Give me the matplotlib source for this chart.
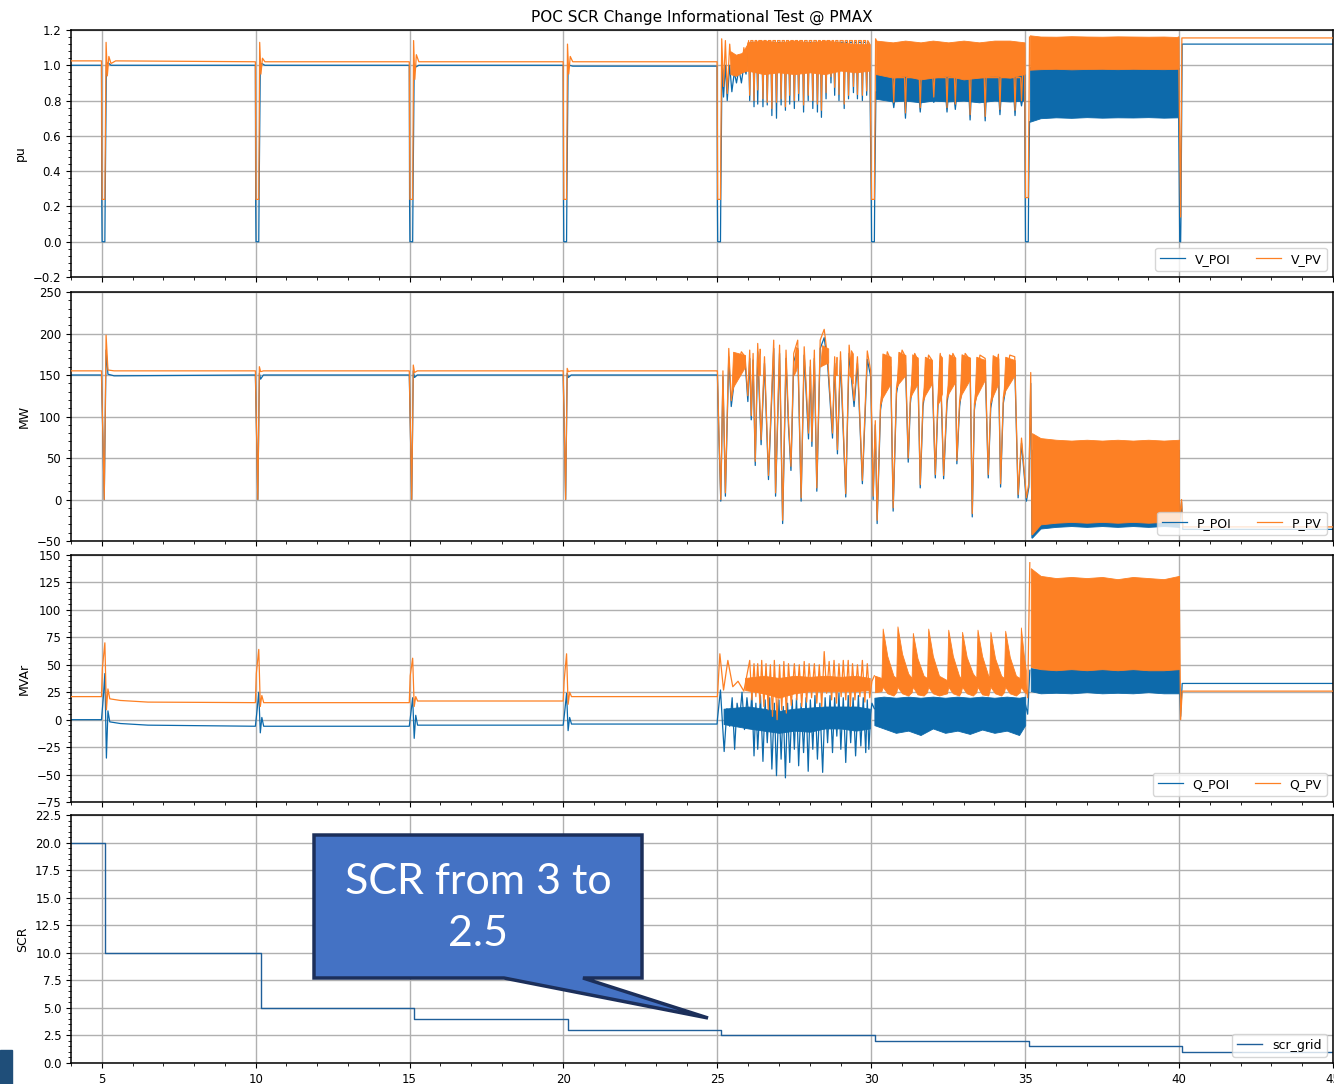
import matplotlib
matplotlib.use("Agg")
import matplotlib.pyplot as plt
import numpy as np
from matplotlib.ticker import MultipleLocator, AutoMinorLocator
from matplotlib.patches import Polygon, Rectangle

BLUE = "#0d6aab"
ORANGE = "#fd8024"

# ---------------- voltage (pu) ----------------
v_t_pre_poi = [4.0, 4.99, 5.0, 5.01, 5.1, 5.11, 5.15, 5.2, 5.3, 9.99, 10.0, 10.01, 10.1, 10.11, 10.15, 10.2, 10.3,
               14.99, 15.0, 15.01, 15.1, 15.11, 15.15, 15.2, 15.3, 19.99, 20.0, 20.01, 20.1, 20.11, 20.15, 20.2, 20.3, 24.99]
v_poi_pre = [1.0, 1.0, 0.22, 0.0, 0.0, 0.24, 1.0, 1.015, 1.0, 1.0, 0.22, 0.0, 0.0, 0.24, 1.0, 1.01, 1.0,
             1.0, 0.22, 0.0, 0.0, 0.24, 1.0, 0.99, 1.0, 1.0, 0.24, 0.0, 0.0, 0.25, 1.0, 1.0, 0.995, 0.995]
v_t_pre_pv = [4.0, 4.99, 5.01, 5.1, 5.14, 5.18, 5.23, 5.3, 5.45, 9.99, 10.01, 10.1, 10.13, 10.17, 10.22, 10.3,
              14.99, 15.01, 15.1, 15.13, 15.17, 15.22, 15.3, 19.99, 20.01, 20.1, 20.13, 20.17, 20.22, 20.3, 24.99]
v_pv_pre = [1.025, 1.025, 0.24, 0.24, 1.13, 0.94, 1.05, 1.01, 1.025, 1.02, 0.24, 0.24, 1.13, 0.95, 1.04, 1.02,
            1.02, 0.24, 0.24, 1.14, 0.92, 1.06, 1.02, 1.02, 0.24, 0.24, 1.12, 0.95, 1.05, 1.02, 1.02]

# fault at 25 s and first swings
v_t_f25_poi = [25.0, 25.01, 25.1, 25.11, 25.15, 25.2, 25.26, 25.32, 25.4, 25.47, 25.55, 25.62, 25.7, 25.78, 25.86, 25.93]
v_poi_f25 = [0.22, 0.0, 0.0, 0.24, 1.0, 0.82, 1.0, 0.8, 1.0, 0.85, 0.96, 0.9, 0.98, 0.9, 1.0, 0.95]
v_t_f25_pv = [25.01, 25.1, 25.14, 25.2, 25.26, 25.32, 25.4, 25.47, 25.55, 25.62, 25.7, 25.78, 25.86, 25.93]
v_pv_f25 = [0.24, 0.24, 1.15, 0.88, 1.14, 0.84, 1.12, 0.96, 1.05, 0.95, 1.06, 0.96, 1.1, 1.0]
v_band1_t = [25.42, 25.6, 25.8, 25.97]
v_pv_band1_lo = [0.95, 0.94, 0.96, 0.97]
v_pv_band1_hi = [1.08, 1.06, 1.07, 1.12]

# dips 26..30 s
v_spk_t = [26.05, 26.19, 26.31, 26.48, 26.62, 26.77, 26.92, 27.07, 27.21, 27.35, 27.5, 27.64, 27.8, 27.95,
           28.1, 28.25, 28.38, 28.53, 28.69, 28.81, 28.95, 29.12, 29.26, 29.42, 29.55, 29.71, 29.85]
v_pv_spk = [0.83, 0.80, 0.86, 0.81, 0.79, 0.755, 0.79, 0.81, 0.765, 0.83, 0.80, 0.84, 0.775, 0.83,
            0.80, 0.78, 0.745, 0.845, 0.935, 0.875, 0.835, 0.78, 0.83, 0.88, 0.835, 0.83, 0.855]
v_poi_spk = [0.80, 0.765, 0.78, 0.765, 0.775, 0.715, 0.70, 0.775, 0.745, 0.78, 0.755, 0.80, 0.735, 0.80,
             0.755, 0.735, 0.705, 0.81, 0.90, 0.83, 0.80, 0.755, 0.81, 0.845, 0.81, 0.80, 0.83]
v_pv_top = 1.14
v_poi_top = 1.13
v_band1b_t = [25.97, 26.5, 27.0, 27.5, 28.0, 28.5, 29.0, 29.5, 29.95]
v_pv_band1b_lo = [0.97, 0.95, 0.96, 0.95, 0.96, 0.95, 0.97, 0.96, 0.97]
v_pv_band1b_hi = [1.13, 1.14, 1.13, 1.14, 1.13, 1.14, 1.13, 1.12, 1.12]

# fault at 30 s
v_t_f30_poi = [29.95, 30.0, 30.01, 30.1, 30.11, 30.15]
v_poi_f30 = [1.0, 0.22, 0.0, 0.0, 0.24, 0.85]
v_t_f30_pv = [29.95, 30.01, 30.1, 30.14]
v_pv_f30 = [1.12, 0.24, 0.24, 1.15]

# 30..35 s dense band and dips
v_spk2_t = [30.73, 31.11, 31.59, 32.03, 32.46, 32.73, 33.21, 33.7, 34.18, 34.67, 34.88]
v_pv_spk2 = [0.79, 0.73, 0.76, 0.82, 0.76, 0.78, 0.72, 0.71, 0.75, 0.745, 0.80]
v_poi_spk2 = [0.76, 0.70, 0.735, 0.79, 0.735, 0.75, 0.69, 0.685, 0.72, 0.715, 0.77]
v_band2_t = [30.15, 30.7, 31.1, 31.6, 32.0, 32.5, 33.0, 33.5, 34.0, 34.5, 34.98]
v_pv_band2_lo = [0.95, 0.93, 0.94, 0.92, 0.93, 0.94, 0.92, 0.93, 0.94, 0.93, 0.95]
v_pv_band2_hi = [1.14, 1.13, 1.14, 1.13, 1.14, 1.13, 1.14, 1.13, 1.14, 1.14, 1.13]
v_poi_band2_lo = [0.81, 0.795, 0.80, 0.79, 0.80, 0.795, 0.80, 0.79, 0.80, 0.795, 0.80]
v_poi_band2_hi = [0.95, 0.95, 0.95, 0.95, 0.95, 0.95, 0.95, 0.95, 0.95, 0.95, 0.95]

# fault at 35 s, 35..40 s band
v_t_f35_poi = [34.98, 35.0, 35.01, 35.1, 35.11, 35.14]
v_poi_f35 = [0.85, 0.22, 0.0, 0.0, 0.25, 0.68]
v_t_f35_pv = [34.98, 35.01, 35.1, 35.14]
v_pv_f35 = [1.1, 0.25, 0.25, 1.16]
v_band3_t = [35.15, 35.5, 36.0, 36.5, 37.0, 37.5, 38.0, 38.5, 39.0, 39.5, 39.98]
v_pv_band3_hi = [1.17, 1.163, 1.162, 1.165, 1.163, 1.162, 1.164, 1.163, 1.162, 1.163, 1.16]
v_pv_band3_lo = [0.975, 0.978, 0.98, 0.977, 0.979, 0.98, 0.978, 0.98, 0.979, 0.978, 0.98]
v_poi_band3_hi = [0.99, 0.985, 0.985, 0.985, 0.985, 0.985, 0.985, 0.985, 0.985, 0.985, 0.985]
v_poi_band3_lo = [0.68, 0.70, 0.705, 0.702, 0.706, 0.703, 0.705, 0.704, 0.706, 0.703, 0.705]

# fault at 40 s and final level
v_t_f40_poi = [39.98, 40.0, 40.02, 40.05, 40.06, 40.1, 45.0]
v_poi_f40 = [0.85, 0.43, 0.0, 0.0, 0.13, 1.12, 1.12]
v_t_f40_pv = [39.98, 40.05, 40.09, 45.0]
v_pv_f40 = [1.16, 0.14, 1.155, 1.155]

# ---------------- active power (MW) ----------------
p_t_pre = [4.0, 4.99, 5.08, 5.14, 5.2, 5.4, 9.99, 10.07, 10.12, 10.16, 10.25, 14.99, 15.07, 15.12, 15.16, 15.25,
           19.99, 20.07, 20.12, 20.16, 20.25, 24.99]
p_pv_pre = [155, 155, 0, 198, 156, 155, 155, 0, 160, 154, 155, 155, 0, 162, 153, 155, 155, 0, 158, 154, 155, 155]
p_poi_pre = [150, 150, 0, 180, 151, 149, 150, 0, 152, 145, 150, 150, 0, 155, 147, 150, 150, 0, 152, 147, 150, 150]

p_t_osc = [25.0, 25.05, 25.11, 25.18, 25.26, 25.37, 25.45, 25.56, 25.78, 25.9, 25.99, 26.05, 26.1, 26.16, 26.23,
           26.31, 26.42, 26.53, 26.66, 26.83, 26.89, 27.02, 27.12, 27.23, 27.31, 27.39, 27.48, 27.61, 27.72,
           27.82, 27.96, 28.02, 28.07, 28.15, 28.23, 28.34, 28.47, 28.58, 28.74, 28.81, 28.9, 29.0, 29.17,
           29.28, 29.44, 29.55, 29.71, 29.87, 29.98, 30.06, 30.13, 30.19, 30.3, 30.52, 30.63, 30.71, 30.82,
           31.0, 31.11, 31.2, 31.27, 31.41, 31.51, 31.59, 31.68, 31.86, 31.97, 32.08, 32.16, 32.24, 32.35,
           32.46, 32.65, 32.73, 32.78, 32.87, 33.05, 33.21, 33.28, 33.35, 33.53, 33.7, 33.8, 33.88, 34.13,
           34.2, 34.29, 34.5, 34.66, 34.77, 34.88, 35.04]
p_pv_osc = [155, 80, 0, 155, 8, 182, 119, 151, 178, 172, 125, 180, 101, 176, 46, 188, 72, 172, 29, 192, 8,
            186, -25, 180, 95, 40, 176, 192, 2, 184, 80, 168, 70, 180, 14, 192, 205, 172, 80, 172, 60, 178, 7,
            186, 119, 172, 23, 179, 155, 4, 95, -25, 115, 178, 168, -10, 135, 180, 172, 50, 123, 176, 168, 18,
            119, 174, 168, 30, 115, 176, 29, 123, 176, 170, 47, 119, 176, 168, -17, 115, 174, 170, 30, 117,
            175, 19, 123, 174, 172, 6, 74, 2]
p_poi_osc = [150, 75, -2, 148, 4, 172, 112, 146, 168, 166, 118, 170, 96, 168, 41, 178, 66, 164, 24, 182, 4,
             176, -29, 170, 88, 35, 166, 182, -2, 174, 73, 160, 64, 170, 10, 182, 195, 164, 74, 164, 55, 168, 3,
             176, 112, 164, 19, 169, 148, 0, 90, -29, 108, 168, 160, -14, 128, 170, 164, 45, 116, 166, 160, 14,
             112, 164, 160, 26, 108, 166, 25, 116, 166, 162, 43, 112, 166, 160, -21, 108, 164, 162, 26, 110,
             165, 15, 116, 164, 164, 2, 68, -2]

# recovery wedges between dips
p_wedge_t0 = [25.45, 26.31, 27.48, 28.34, 28.81, 29.28, 30.3, 30.82, 31.27, 31.68, 32.16, 32.46, 32.87, 33.35, 33.88, 34.29]
p_wedge_t1 = [25.9, 26.38, 27.62, 28.6, 28.88, 29.4, 30.63, 31.11, 31.51, 31.97, 32.3, 32.73, 33.21, 33.7, 34.13, 34.66]
p_wedge_lo0 = [125, 150, 150, 160, 150, 150, 115, 135, 123, 119, 115, 123, 119, 115, 117, 123]
p_wedge_lo1 = [160, 150, 165, 165, 150, 140, 140, 150, 140, 140, 128, 142, 145, 145, 140, 150]
p_wedge_hi = [178, 182, 184, 186, 172, 180, 176, 178, 175, 172, 175, 175, 175, 172, 174, 172]

p_t_f35 = [35.12, 35.18, 35.22]
p_pv_f35 = [20, 153, -42]
p_poi_f35 = [15, 140, -46]
p_band3_t = [35.22, 35.5, 36.0, 36.5, 37.0, 37.5, 38.0, 38.5, 39.0, 39.5, 40.0]
p_pv_band3_hi = [80, 74, 72, 71, 72, 71, 72, 71, 72, 71, 72]
p_pv_band3_lo = [-42, -30, -28, -27, -28, -27, -28, -27, -28, -27, -28]
p_poi_band3_hi = [60, 62, 60, 61, 60, 61, 60, 61, 60, 61, 60]
p_poi_band3_lo = [-46, -35, -33, -32, -33, -32, -33, -32, -33, -32, -33]
p_t_f40 = [40.0, 40.08, 40.12, 45.0]
p_pv_f40 = [-28, 0, -33, -33]
p_poi_f40 = [-33, -3, -36, -36]

# ---------------- reactive power (MVAr) ----------------
q_t_pre_pv = [4.0, 4.99, 5.02, 5.1, 5.15, 5.2, 5.26, 5.6, 6.5, 9.99, 10.02, 10.1, 10.15, 10.2, 10.26,
              14.99, 15.02, 15.1, 15.15, 15.2, 15.26, 19.99, 20.02, 20.1, 20.15, 20.2, 20.26, 24.99]
q_pv_pre = [21, 21, 47, 70, 9, 28, 19, 17.5, 16, 15.5, 42, 64, 12, 22, 15.5,
            15.5, 40, 56, 12, 21, 17, 17, 35, 60, 14, 25, 21, 21]
q_t_pre_poi = [4.0, 4.99, 5.05, 5.1, 5.15, 5.2, 5.26, 5.6, 6.5, 9.99, 10.05, 10.1, 10.15, 10.2, 10.26,
               14.99, 15.05, 15.1, 15.15, 15.2, 15.26, 19.99, 20.05, 20.1, 20.15, 20.2, 20.26, 24.99]
q_poi_pre = [0, 0, 20, 42, -35, 8, -2, -3.5, -5, -6, 10, 25, -12, 2, -6,
             -6, 8, 20, -17, 4, -5, -5, 10, 24, -10, 2, -4, -4]

q_t_osc_pv = [25.0, 25.08, 25.2, 25.34, 25.5, 25.67, 25.86, 26.05, 26.12, 26.19, 26.25, 26.31, 26.38, 26.44,
              26.51, 26.58, 26.65, 26.72, 26.79, 26.85, 26.94, 27.02, 27.09, 27.16, 27.24, 27.31, 27.4, 27.5,
              27.58, 27.66, 27.74, 27.82, 27.9, 27.98, 28.06, 28.15, 28.23, 28.31, 28.39, 28.47, 28.55, 28.63,
              28.71, 28.79, 28.87, 28.95, 29.02, 29.09, 29.17, 29.25, 29.32, 29.39, 29.47, 29.55, 29.63, 29.71,
              29.79, 29.87, 29.95]
q_pv_osc = [21, 60, 27, 54, 30, 35, 26, 54, 18, 51, 21, 51, 15, 54, 12, 51, 9, 50, 3, 54, 0, 50, 9, 53, 6, 51,
            13, 51, 18, 50, 12, 53, 16, 51, 20, 51, 15, 50, 12, 62, 24, 53, 18, 54, 15, 51, 21, 54, 18, 54, 12,
            51, 18, 50, 21, 54, 16, 51, 20]
q_t_osc_poi = [25.0, 25.1, 25.22, 25.31, 25.4, 25.48, 25.56, 25.64, 25.72, 25.8, 25.88, 25.96, 26.05, 26.12,
               26.19, 26.25, 26.31, 26.4, 26.48, 26.55, 26.62, 26.7, 26.77, 26.85, 26.92, 27.0, 27.07, 27.14,
               27.21, 27.28, 27.35, 27.43, 27.5, 27.57, 27.64, 27.72, 27.8, 27.88, 27.95, 28.02, 28.1, 28.17,
               28.25, 28.33, 28.42, 28.5, 28.58, 28.66, 28.74, 28.81, 28.88, 28.95, 29.01, 29.09, 29.17, 29.25,
               29.33, 29.41, 29.49, 29.58, 29.66, 29.74, 29.82, 29.87, 29.92, 29.98]
q_poi_osc = [0, 27, -29, 10, -6, 20, -27, 15, 0, 25, -9, 20, -6, 24, -33, 15, -27, 22, -38, 18, -21, 20, -45,
             15, -51, 18, -36, 12, -53, 15, -39, 18, -27, 20, -42, 15, -30, 20, -47, 18, -27, 22, -36, 15, -48,
             20, -21, 22, -30, 20, -15, 24, -27, 20, -39, 22, -21, 20, -33, 22, -24, 20, -30, 18, -27, 5]
q_band_a_t_pv = [25.9, 26.5, 27.0, 27.5, 28.0, 28.5, 29.0, 29.5, 29.95]
q_pv_band_a_lo = [27, 24, 20, 24, 26, 26, 26, 26, 27]
q_pv_band_a_hi = [38, 40, 38, 40, 39, 40, 39, 40, 38]
q_band_a_t_poi = [25.2, 26.0, 26.5, 27.0, 27.5, 28.0, 28.5, 29.0, 29.5, 29.95]
q_poi_band_a_lo = [-4, -8, -10, -12, -10, -11, -8, -8, -10, -8]
q_poi_band_a_hi = [10, 12, 10, 8, 10, 11, 12, 12, 12, 10]

# 30..35 s sawtooth (PV) and band (POI)
q_t_f30 = [30.02, 30.1]
q_pv_f30 = [35, 40]
q_poi_f30 = [15, 10]
q_tooth_t = [30.12, 30.33, 30.37, 30.52, 30.72, 30.81, 30.85, 31.0, 31.2, 31.31, 31.35, 31.5, 31.7, 31.81, 31.85,
             32.0, 32.2, 32.46, 32.5, 32.65, 32.85, 32.91, 32.95, 33.1, 33.3, 33.41, 33.45, 33.6, 33.8, 33.83,
             33.87, 34.02, 34.22, 34.31, 34.35, 34.5, 34.7, 34.82, 34.86, 34.95, 35.02]
q_tooth_hi = [40, 38, 83, 58, 40, 38, 85, 60, 42, 38, 79, 56, 40, 38, 83, 58, 40, 36, 82, 58, 40, 38, 80, 57, 42,
              38, 82, 58, 40, 38, 80, 56, 40, 38, 81, 57, 40, 38, 84, 60, 45]
q_tooth_lo = [25, 26, 30, 24, 22, 25, 30, 24, 22, 25, 30, 23, 22, 25, 30, 24, 22, 24, 30, 24, 22, 25, 30, 24, 22,
              25, 30, 23, 22, 25, 30, 24, 22, 25, 30, 24, 22, 25, 30, 26, 24]
q_band_b_t = [30.1, 30.4, 30.8, 31.2, 31.6, 32.0, 32.4, 32.8, 33.2, 33.6, 34.0, 34.4, 34.8, 35.0]
q_poi_band_b_lo = [-5, -8, -12, -10, -14, -8, -12, -10, -13, -9, -12, -10, -14, -5]
q_poi_band_b_hi = [20, 21, 20, 21, 20, 21, 20, 21, 20, 21, 20, 21, 20, 21]

q_t_f35 = [35.0, 35.08, 35.15]
q_pv_f35 = [35, 20, 143]
q_poi_f35 = [15, 5, 45]
q_band3_t = [35.18, 35.5, 36.0, 36.5, 37.0, 37.5, 38.0, 38.5, 39.0, 39.5, 40.0]
q_pv_band3_hi = [138, 131, 129, 130, 129, 130, 128, 130, 129, 128, 131]
q_pv_band3_lo = [48, 46, 45, 46, 45, 46, 45, 46, 45, 45, 46]
q_poi_band3_hi = [47, 46, 46, 46, 46, 46, 46, 46, 46, 46, 46]
q_poi_band3_lo = [26, 24, 24.5, 24, 25, 24, 24.5, 24, 25, 24, 24]
q_t_f40 = [40.0, 40.05, 40.1, 45.0]
q_pv_f40 = [130, 0, 26, 26]
q_poi_f40 = [45, 3, 33, 33]

# ---------------- SCR ----------------
scr_t = [4.0, 5.12, 10.18, 15.15, 20.15, 25.12, 30.12, 35.12, 40.1, 45.0]
scr_v = [20.0, 10.0, 5.0, 4.0, 3.0, 2.5, 2.0, 1.5, 1.0, 1.0]


def spikes(times, troughs, base, hw):
    t, v = [], []
    for ti, vi in zip(times, troughs):
        t += [ti - hw, ti, ti + hw]
        v += [base, vi, base]
    return t, v


def join(*parts):
    # parts are (t, v) pairs; None breaks the line
    tt, vv = [], []
    for p in parts:
        if p is None:
            tt.append(np.nan); vv.append(np.nan)
        else:
            tt += list(p[0]); vv += list(p[1])
    return np.array(tt, float), np.array(vv, float)


def band(ax, t, lo, hi, color, z):
    ax.fill_between(t, lo, hi, color=color, lw=0.6, zorder=z)


fig = plt.figure(figsize=(13.34, 10.84), dpi=100)
W, H = 1334.0, 1084.0
left, width = 71 / W, 1262 / W
rows = [(30, 277), (292, 541), (555, 802), (815, 1063)]
axes = []
for top, bot in rows:
    ax = fig.add_axes([left, 1 - bot / H, width, (bot - top) / H], sharex=axes[0] if axes else None)
    axes.append(ax)
ax1, ax2, ax3, ax4 = axes

lw = 0.9

# panel 1
t, v = join((v_t_pre_poi, v_poi_pre), (v_t_f25_poi, v_poi_f25), spikes(v_spk_t, v_poi_spk, v_poi_top, 0.035),
            (v_t_f30_poi, v_poi_f30), spikes(v_spk2_t, v_poi_spk2, 0.80, 0.03),
            (v_t_f35_poi, v_poi_f35), None, (v_t_f40_poi, v_poi_f40))
ax1.plot(t, v, color=BLUE, lw=lw, label="V_POI", zorder=2)
band(ax1, v_band2_t, v_poi_band2_lo, v_poi_band2_hi, BLUE, 2)
band(ax1, v_band3_t, v_poi_band3_lo, v_poi_band3_hi, BLUE, 2)
t, v = join((v_t_pre_pv, v_pv_pre), (v_t_f25_pv, v_pv_f25), spikes(v_spk_t, v_pv_spk, v_pv_top, 0.035),
            (v_t_f30_pv, v_pv_f30), spikes(v_spk2_t, v_pv_spk2, 0.93, 0.03),
            (v_t_f35_pv, v_pv_f35), None, (v_t_f40_pv, v_pv_f40))
ax1.plot(t, v, color=ORANGE, lw=lw, label="V_PV", zorder=3)
band(ax1, v_band1_t, v_pv_band1_lo, v_pv_band1_hi, ORANGE, 3)
band(ax1, v_band1b_t, v_pv_band1b_lo, v_pv_band1b_hi, ORANGE, 3)
band(ax1, v_band2_t, v_pv_band2_lo, v_pv_band2_hi, ORANGE, 3)
band(ax1, v_band3_t, v_pv_band3_lo, v_pv_band3_hi, ORANGE, 3)

# panel 2
t, v = join((p_t_pre, p_poi_pre), (p_t_osc, p_poi_osc), (p_t_f35, p_poi_f35), None, (p_t_f40, p_poi_f40))
ax2.plot(t, v, color=BLUE, lw=lw, label="P_POI", zorder=2)
band(ax2, p_band3_t, p_poi_band3_lo, p_poi_band3_hi, BLUE, 2)
t, v = join((p_t_pre, p_pv_pre), (p_t_osc, p_pv_osc), (p_t_f35, p_pv_f35), None, (p_t_f40, p_pv_f40))
ax2.plot(t, v, color=ORANGE, lw=lw, label="P_PV", zorder=3)
for a, b, l0, l1, h in zip(p_wedge_t0, p_wedge_t1, p_wedge_lo0, p_wedge_lo1, p_wedge_hi):
    band(ax2, [a, a + 0.06, b], [l0, l0 + (l1 - l0) * 0.3, l1], [l0, h, h - 4], ORANGE, 3)
band(ax2, p_band3_t, p_pv_band3_lo, p_pv_band3_hi, ORANGE, 3)

# panel 3
t, v = join((q_t_pre_poi, q_poi_pre), (q_t_osc_poi, q_poi_osc), (q_t_f30, q_poi_f30), None,
            (q_t_f35, q_poi_f35), None, (q_t_f40, q_poi_f40))
ax3.plot(t, v, color=BLUE, lw=lw, label="Q_POI", zorder=2)
band(ax3, q_band_a_t_poi, q_poi_band_a_lo, q_poi_band_a_hi, BLUE, 2)
band(ax3, q_band_b_t, q_poi_band_b_lo, q_poi_band_b_hi, BLUE, 2)
band(ax3, q_band3_t, q_poi_band3_lo, q_poi_band3_hi, BLUE, 2)
t, v = join((q_t_pre_pv, q_pv_pre), (q_t_osc_pv, q_pv_osc), (q_t_f30, q_pv_f30), None,
            (q_t_f35, q_pv_f35), None, (q_t_f40, q_pv_f40))
ax3.plot(t, v, color=ORANGE, lw=lw, label="Q_PV", zorder=3)
band(ax3, q_band_a_t_pv, q_pv_band_a_lo, q_pv_band_a_hi, ORANGE, 3)
band(ax3, q_tooth_t, q_tooth_lo, q_tooth_hi, ORANGE, 3)
band(ax3, q_band3_t, q_pv_band3_lo, q_pv_band3_hi, ORANGE, 3)

# panel 4
ax4.step(scr_t, scr_v, where="post", color="#1f5f99", lw=1.0, label="scr_grid")

limits = [(-0.2, 1.2, 0.2), (-50, 250, 50), (-75, 150, 25), (0, 22.5, 2.5)]
labels = ["pu", "MW", "MVAr", "SCR"]
for ax, (lo, hi, st), lab in zip(axes, limits, labels):
    ax.set_xlim(4, 45)
    ax.set_ylim(lo, hi)
    ax.yaxis.set_major_locator(MultipleLocator(st))
    ax.yaxis.set_minor_locator(AutoMinorLocator(5))
    ax.xaxis.set_major_locator(MultipleLocator(5))
    ax.xaxis.set_minor_locator(MultipleLocator(1))
    ax.set_axisbelow(True)
    ax.grid(True, which="major", color="#b0b0b0", lw=1.0)
    ax.tick_params(labelsize=8.5)
    ax.set_ylabel(lab, fontsize=9)
    ax.legend(loc="lower right", ncol=2, fontsize=9)
    for s in ax.spines.values():
        s.set_linewidth(1.1)
for ax in axes[:3]:
    ax.tick_params(labelbottom=False)

ax1.set_title("POC SCR Change Informational Test @ PMAX", fontsize=11)

# callout box
def fp(x, y):
    return (x / W, 1 - y / H)

pts = [fp(314, 835), fp(642, 835), fp(642, 978), fp(583, 978), fp(708, 1018), fp(504, 978), fp(314, 978)]
fig.add_artist(Polygon(pts, closed=True, transform=fig.transFigure, facecolor="#4472c4",
                       edgecolor="#1c2f5a", lw=2.5, zorder=10))
fig.text(478 / W, 1 - 908 / H, "SCR from 3 to\n2.5", ha="center", va="center", fontsize=31,
         color="white", family=["Lato", "DejaVu Sans"], linespacing=1.45, zorder=11)
fig.add_artist(Rectangle((0, 0), 12 / W, 34 / H, transform=fig.transFigure, color="#1f4e79", zorder=10))

fig.savefig("out.png", dpi=100)
